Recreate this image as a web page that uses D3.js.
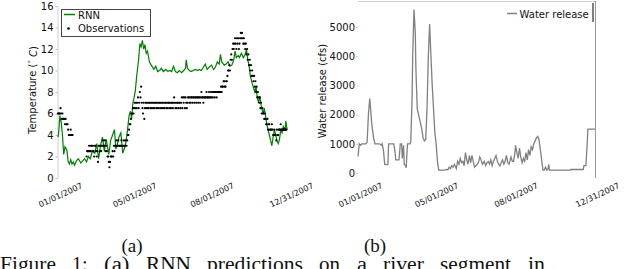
<!DOCTYPE html>
<html>
<head>
<meta charset="utf-8">
<script src="https://cdn.jsdelivr.net/npm/d3@7"></script>
<style>
  body { margin: 0; background: #fff; }
  svg { display: block; }
  text { font-family: "DejaVu Sans", sans-serif; fill: #111; }
</style>
</head>
<body>
<div id="chart"></div>
<script>
// Shared date ticks (day of year 2007)
const dateTickDays = [0, 117, 239, 364];
const dateTickLabels = ["01/01/2007", "05/01/2007", "08/01/2007", "12/31/2007"];

// Panel (a): temperature
const tempTicks = [0, 2, 4, 6, 8, 10, 12, 14, 16];

const rnnDays = [0, 1, 3, 5, 7, 9, 11, 14, 16, 18,
    20, 22, 24, 26, 29, 32, 36, 39, 42, 45,
    48, 51, 54, 58, 61, 64, 67, 70, 73, 76,
    80, 83, 86, 89, 91, 93, 96, 99, 102, 106,
    109, 112, 114, 116, 118, 120, 122, 124, 127, 129,
    131, 133, 135, 137, 139, 141, 144, 147, 151, 154,
    157, 160, 163, 166, 170, 173, 176, 179, 182, 185,
    188, 191, 195, 198, 201, 202, 204, 207, 210, 213,
    216, 220, 223, 226, 229, 232, 235, 238, 242, 245,
    248, 251, 254, 256, 258, 262, 265, 268, 271, 274,
    277, 279, 281, 284, 286, 289, 292, 295, 297, 299,
    301, 303, 306, 310, 312, 314, 316, 318, 320, 323,
    325, 327, 329, 331, 333, 335, 337, 339, 341, 343,
    345, 347, 349, 351, 353, 355, 358, 359, 361];
const rnnTemp = [3.8, 4.2, 5.8, 5.2, 4.0, 2.2, 2.9, 2.6, 1.5, 1.3,
    1.7, 1.3, 1.5, 1.2, 1.6, 1.8, 1.4, 1.6, 1.8, 1.5,
    2.0, 1.8, 2.5, 2.3, 3.2, 1.8, 3.0, 3.8, 2.5, 3.6,
    2.2, 3.5, 4.0, 4.5, 2.7, 3.0, 3.8, 4.2, 2.3, 3.0,
    4.2, 5.8, 6.2, 5.5, 7.0, 7.5, 8.2, 9.5, 11.0, 12.5,
    12.2, 12.8, 12.0, 12.4, 11.6, 11.8, 10.8, 10.5, 10.1, 10.4,
    9.9, 10.0, 10.2, 9.9, 10.1, 9.9, 10.0, 9.9, 10.4, 9.9,
    9.8, 10.0, 9.8, 10.0, 10.2, 11.0, 10.2, 10.0, 9.9, 10.0,
    10.1, 10.0, 10.1, 10.0, 10.3, 10.6, 10.1, 10.3, 10.5, 10.1,
    10.3, 10.8, 10.6, 11.5, 10.8, 10.5, 10.6, 10.8, 10.4, 10.5,
    11.0, 11.8, 11.2, 11.4, 11.2, 11.6, 11.2, 11.5, 12.0, 11.0,
    10.5, 9.5, 8.8, 8.0, 8.5, 7.5, 7.0, 7.6, 6.8, 6.0,
    6.5, 5.8, 5.0, 4.5, 4.0, 3.5, 3.0, 3.8, 4.5, 4.0,
    3.5, 3.2, 3.6, 4.5, 4.2, 4.8, 4.5, 5.3, 4.5];

// Daily observations, two runs: Jan 1-24, then Feb 15 onward
const obsRunStart = [0, 45];
const obsJanTemp = [6.0, 6.0, 6.0, 6.0, 6.5, 6.0, 5.5, 6.0, 5.5, 5.5,
    5.5, 5.0, 5.5, 5.0, 5.0, 5.0, 4.5, 4.0, 4.0, 4.0,
    4.5, 4.0, 4.0, 4.0];
const obsRestTemp = [
    2.0, 2.5, 2.5, 2.5, 3.0, 2.5, 2.5, 3.0, 3.0, 2.5,
    3.0, 2.5, 2.0, 3.0, 3.0, 2.5, 2.0, 2.5, 1.5, 3.0,
    3.0, 2.5, 3.0, 2.5, 3.0, 3.0, 3.5, 3.0, 3.0, 3.5,
    2.5, 3.0, 2.5, 2.0, 2.0, 1.5, 1.0, 1.5, 2.0, 2.0,
    2.0, 2.5, 2.0, 3.0, 2.5, 3.0, 3.0, 3.5, 3.0, 3.0,
    3.5, 3.0, 3.0, 3.0, 3.0, 3.5, 3.0, 3.0, 3.0, 3.5,
    3.0,
    3.0, 3.5, 3.0, 3.5, 4.0, 4.0, 4.5, 5.0, 5.0, 5.5,
    6.0, 6.0, 6.5, 6.0, 6.5, 7.0, 6.5, 7.0, 6.5, 7.0,
    7.5, 6.5, 7.0, 8.0, 7.5, 8.5, 7.0, 6.5, 6.0, 7.0,
    5.5,
    6.5, 7.0, 6.5, 7.0, 6.5, 7.0, 6.5, 7.0, 7.0, 6.5,
    7.0, 6.5, 7.0, 6.5, 7.0, 6.5, 7.0, 7.0, 6.5, 7.0,
    6.5, 7.0, 6.5, 7.0, 7.0, 6.5, 7.0, 6.5, 7.0, 6.5,
    7.0, 6.5, 7.0, 7.0, 6.5, 7.0, 6.5, 7.0, 7.0, 6.5,
    7.0, 6.5, 7.0, 7.0, 6.5, 7.0, 7.5, 7.0, 6.5, 7.0,
    6.5, 7.0, 7.0, 6.5, 7.0, 7.0, 6.5, 7.0, 7.5, 6.5,
    7.5, 7.0, 7.5, 6.5, 7.5, 7.0, 6.5, 7.0, 7.5, 7.5,
    7.0, 7.5, 7.0, 7.5, 7.5, 7.0, 7.5, 7.5, 7.0, 7.5,
    7.5, 7.0, 7.5, 7.5, 7.0, 7.5, 7.5, 7.0, 7.5, 8.0,
    7.5, 7.5, 7.0, 7.5, 7.5, 7.5, 7.5, 8.0, 7.5, 7.5,
    7.5, 8.0, 7.5, 7.5, 8.0, 7.5, 8.0, 7.5, 8.0, 8.0,
    7.5, 8.0, 8.0, 7.5, 8.0, 8.0, 8.0, 8.0, 8.0, 8.0,
    8.5, 8.0, 8.5, 8.5, 9.0, 9.0,
    8.5, 8.5, 9.0, 9.0, 9.5, 10.0, 10.0, 10.5, 10.0, 11.0,
    11.5, 11.0, 12.0, 12.5, 12.0, 12.5, 13.0, 12.5, 12.0, 13.0,
    12.5, 13.0, 12.0, 12.5, 13.0, 13.5, 13.0, 13.5, 13.0, 12.5,
    13.0, 12.5, 12.0, 12.5, 11.5, 12.0, 11.0, 11.5, 10.5, 11.0,
    10.0, 10.5, 9.5, 10.0, 9.5, 9.0, 9.5, 8.5, 9.0, 8.0,
    8.5, 7.5, 8.0, 7.5, 7.0, 7.5, 6.5, 7.0, 6.0, 6.5,
    6.0, 6.0, 5.5, 6.0, 5.5, 5.0, 5.0, 5.5, 4.5, 5.0,
    5.0, 4.5, 4.5, 4.5, 5.0, 4.5, 4.0, 4.0, 4.5, 4.0,
    4.0, 3.5, 4.5, 4.0, 4.0, 4.5, 4.5, 4.5, 5.0, 4.5,
    4.5, 4.5, 4.5, 4.5, 4.5, 4.5, 4.5, 4.5];

// Panel (b): water release (cfs)
const releaseTicks = [0, 1000, 2000, 3000, 4000, 5000];
const releaseDays = [0, 2, 4, 6, 9, 12, 14, 16, 18, 19,
    21, 24, 26, 29, 33, 36, 37, 39, 41, 44,
    46, 47, 50, 53, 55, 57, 58, 61, 63, 65,
    67, 68, 70, 71, 73, 74, 76, 78, 80, 81,
    83, 84, 86, 88, 89, 91, 93, 95, 98, 100,
    102, 104, 106, 108, 110, 112, 114, 116, 118, 120,
    122, 124, 127, 130, 133, 136, 138, 140, 142, 144,
    146, 148, 151, 153, 155, 157, 159, 161, 163, 165,
    167, 169, 171, 173, 175, 177, 179, 181, 183, 185,
    187, 189, 191, 194, 196, 198, 200, 202, 204, 206,
    208, 210, 212, 214, 216, 218, 220, 222, 224, 226,
    228, 230, 232, 235, 237, 239, 241, 242, 244, 246,
    248, 250, 252, 254, 256, 258, 260, 262, 264, 266,
    268, 270, 272, 274, 276, 278, 280, 283, 284, 286,
    288, 290, 292, 293, 294, 297, 326, 327, 346, 347,
    350, 352, 353, 359, 364];
const releaseCfs = [560, 1000, 950, 1000, 1000, 1000, 1050, 2000, 2550, 2300,
    1700, 1200, 1000, 1000, 1000, 950, 1000, 800, 300, 280,
    300, 1000, 1000, 1000, 1000, 700, 450, 450, 450, 1000,
    1000, 500, 950, 300, 250, 180, 1000, 1000, 1000, 1050,
    2500, 4000, 5600, 4800, 3500, 2200, 2000, 1800, 1500, 1200,
    1100, 1150, 2200, 4000, 5100, 4000, 3000, 2200, 1400, 1000,
    400, 100, 100, 100, 100, 120, 110, 200, 150, 250,
    200, 300, 150, 400, 300, 500, 350, 400, 250, 700,
    450, 300, 600, 350, 600, 400, 200, 250, 300, 350,
    550, 450, 300, 400, 250, 350, 400, 300, 450, 250,
    400, 500, 600, 400, 300, 250, 350, 450, 300, 400,
    600, 350, 300, 550, 400, 400, 700, 950, 700, 500,
    850, 550, 350, 500, 400, 700, 450, 800, 600, 900,
    800, 1000, 1100, 1200, 1250, 1150, 800, 300, 100, 100,
    200, 100, 150, 300, 100, 100, 100, 120, 120, 250,
    250, 1000, 1500, 1500, 1500];

// Caption line: words, left x and rendered width of each word
const captionWords = ["Figure", "1:", "(a)", "RNN", "predictions", "on", "a", "river", "segment", "in"];
const captionWordX = [0, 72, 104, 146, 207, 319, 357, 383, 440, 528];
const captionWordW = [56, 15.5, 25.5, 45, 96, 21, 10, 41, 71, 17];

const svg = d3.select("#chart")
    .append("svg")
    .attr("width", 640)
    .attr("height", 269);

// ---------- Panel (a) ----------
const xA = d3.scaleLinear().domain([0, 364]).range([58, 289]);
const yA = d3.scaleLinear().domain([0, 16]).range([178, 6]);

const yAxisA = svg.append("g")
    .attr("transform", "translate(57.5,0)")
    .call(d3.axisLeft(yA).tickValues(tempTicks).tickSize(2).tickSizeOuter(0).tickPadding(2));
yAxisA.select(".domain").attr("stroke", "#cfcfcf");
yAxisA.selectAll(".tick line").attr("stroke", "#bbb");
yAxisA.selectAll("text").style("font-size", "10px").attr("fill", "#111");

function dateAxis(x, y0) {
    const g = svg.append("g")
        .attr("transform", `translate(0,${y0})`)
        .call(d3.axisBottom(x).tickValues(dateTickDays)
            .tickFormat((d, i) => dateTickLabels[i]).tickSize(0));
    g.select(".domain").remove();
    g.selectAll("text")
        .attr("y", 0)
        .attr("dy", "0.35em")
        .attr("transform", "translate(2,13) rotate(-25)")
        .style("text-anchor", "middle")
        .style("font-size", "8.2px")
        .attr("fill", "#222");
    return g;
}
dateAxis(xA, 182);

const rnnLine = d3.line()
    .x(d => xA(d[0]))
    .y(d => yA(d[1]));

svg.append("path")
    .datum(rnnDays.map((d, i) => [d, rnnTemp[i]]))
    .attr("fill", "none")
    .attr("stroke", "#008000")
    .attr("stroke-width", 1.2)
    .attr("d", rnnLine);

const obsData = obsJanTemp.map((t, i) => [obsRunStart[0] + i, t])
    .concat(obsRestTemp.map((t, i) => [obsRunStart[1] + i, t]));

svg.append("g").selectAll("circle")
    .data(obsData)
    .enter()
    .append("circle")
    .attr("cx", d => xA(d[0]))
    .attr("cy", d => yA(d[1]))
    .attr("r", 1.1)
    .attr("fill", "#000");

// legend (a)
const legA = svg.append("g");
legA.append("rect")
    .attr("x", 61.5).attr("y", 9.5).attr("width", 89).attr("height", 27)
    .attr("fill", "#fff").attr("stroke", "#444").attr("stroke-width", 1);
legA.append("line")
    .attr("x1", 64).attr("x2", 75).attr("y1", 14.5).attr("y2", 14.5)
    .attr("stroke", "#008000").attr("stroke-width", 1.5);
legA.append("text").attr("x", 78).attr("y", 18.5)
    .style("font-size", "10px").text("RNN");
legA.append("circle").attr("cx", 68.5).attr("cy", 28.5).attr("r", 1.3).attr("fill", "#000");
legA.append("text").attr("x", 78).attr("y", 32)
    .style("font-size", "10px").text("Observations");

// y label (a)
const labA = svg.append("text")
    .attr("transform", "translate(32,90) rotate(-90)")
    .style("text-anchor", "middle")
    .attr("dy", "0.35em")
    .style("font-size", "10px");
labA.append("tspan").text("Temperature (");
labA.append("tspan").attr("dy", "-0.4em").style("font-size", "7px").text("\u00b0");
labA.append("tspan").attr("dy", "0.4em").text(" ");
labA.append("tspan").style("font-style", "italic").text("C");
labA.append("tspan").text(")");

// ---------- Panel (b) ----------
const xB = d3.scaleLinear().domain([0, 364]).range([358, 595]);
const yB = d3.scaleLinear().domain([0, 5000]).range([173, 27]);

const yAxisB = svg.append("g")
    .attr("transform", "translate(358,0)")
    .call(d3.axisLeft(yB).tickValues(releaseTicks).tickFormat(d3.format("d"))
        .tickSize(2).tickPadding(1));
yAxisB.select(".domain").remove();
yAxisB.selectAll(".tick line").attr("stroke", "#ccc");
yAxisB.selectAll("text").style("font-size", "10px").attr("fill", "#111");

dateAxis(xB, 182);

// frame: top and right spines
svg.append("line").attr("x1", 358).attr("x2", 595).attr("y1", 1.5).attr("y2", 1.5)
    .attr("stroke", "#d0d0d0");
svg.append("line").attr("x1", 595.5).attr("x2", 595.5).attr("y1", 1).attr("y2", 178)
    .attr("stroke", "#999");

const releaseLine = d3.line()
    .x(d => xB(d[0]))
    .y(d => yB(d[1]));

svg.append("path")
    .datum(releaseDays.map((d, i) => [d, releaseCfs[i]]))
    .attr("fill", "none")
    .attr("stroke", "#808080")
    .attr("stroke-width", 1.3)
    .attr("d", releaseLine);

// legend (b)
svg.append("line")
    .attr("x1", 507).attr("x2", 517).attr("y1", 13.5).attr("y2", 13.5)
    .attr("stroke", "#808080").attr("stroke-width", 1.5);
svg.append("text").attr("x", 519.5).attr("y", 17.5)
    .style("font-size", "10px").text("Water release");
svg.append("line").attr("x1", 593).attr("x2", 593).attr("y1", 3).attr("y2", 22)
    .attr("stroke", "#000").attr("stroke-width", 1);

svg.append("text")
    .attr("transform", "translate(322,91) rotate(-90)")
    .style("text-anchor", "middle")
    .attr("dy", "0.35em")
    .style("font-size", "10px")
    .text("Water release (cfs)");

// ---------- Captions ----------
const serif = "'Liberation Serif', 'DejaVu Serif', serif";
svg.append("text").attr("x", 132).attr("y", 252)
    .style("text-anchor", "middle").style("font-family", serif).style("font-size", "19px")
    .text("(a)");
svg.append("text").attr("x", 375).attr("y", 252)
    .style("text-anchor", "middle").style("font-family", serif).style("font-size", "19px")
    .text("(b)");

svg.append("g").selectAll("text")
    .data(captionWords)
    .enter()
    .append("text")
    .attr("x", (d, i) => captionWordX[i])
    .attr("y", 271)
    .attr("textLength", (d, i) => captionWordW[i])
    .attr("lengthAdjust", "spacingAndGlyphs")
    .style("font-family", serif)
    .style("font-size", "20px")
    .text(d => d);
</script>
</body>
</html>
